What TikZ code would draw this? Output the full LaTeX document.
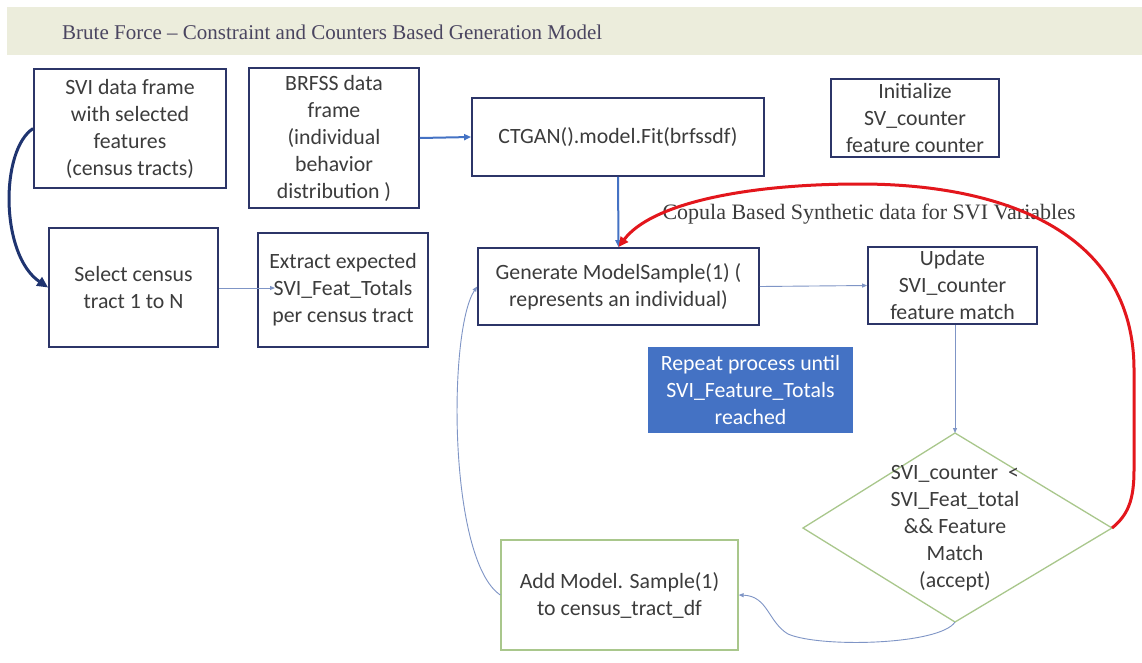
\documentclass[tikz,border=0pt]{standalone}
\usepackage{fontspec}
\setmainfont{Carlito}
\newfontfamily\serifttl{Liberation Serif}
\usetikzlibrary{arrows.meta}
\definecolor{band}{HTML}{ECEDDC}
\definecolor{navy}{HTML}{2C3568}
\definecolor{txt}{HTML}{3C3C3C}
\definecolor{thin}{HTML}{7F95C6}
\definecolor{midblue}{HTML}{4472C4}
\definecolor{darkarrow}{HTML}{1F3470}
\definecolor{grn}{HTML}{A9C78C}
\definecolor{redc}{HTML}{E3161C}
\definecolor{ttl}{HTML}{4A4560}
\tikzset{
  x=1pt, y=-1pt,
  box/.style={draw=navy, line width=1.8pt, rectangle, inner sep=0pt, align=center,
    text=txt, font=\fontsize{21.8}{27}\selectfont},
  gbox/.style={draw=grn, line width=1.3pt, rectangle, inner sep=0pt, align=center,
    text=txt, font=\fontsize{21.8}{27}\selectfont},
  lbl/.style={inner sep=0pt, align=center, text=txt, font=\fontsize{21.8}{27}\selectfont},
  thinarr/.style={draw=thin, line width=0.9pt, -{Triangle[length=5pt,width=4pt]}},
  bluearr/.style={draw=midblue, line width=2pt, -{Triangle[length=7pt,width=6pt]}},
}
\begin{document}
\begin{tikzpicture}
\useasboundingbox (0,0) rectangle (1142,662);
\fill[white] (0,0) rectangle (1142,662);
\fill[band] (7,7) rectangle (1142,55);
\node[anchor=west, inner sep=0pt, text=ttl, font=\serifttl\fontsize{21}{24}\selectfont] (title) at (62,32)
  {Brute Force – Constraint and Counters Based Generation Model};

\node[box, minimum width=192, minimum height=119] (svi) at (130,128.5)
  {SVI data frame\\with selected\\features\\(census tracts)};
\node[box, minimum width=170, minimum height=140] (brfss) at (334,138)
  {BRFSS data\\frame\\(individual\\behavior\\distribution )};
\node[box, minimum width=292, minimum height=78] (ctgan) at (618,137)
  {CTGAN().model.Fit(brfssdf)};
\node[box, minimum width=168, minimum height=78] (init) at (915,118)
  {Initialize\\SV\_counter\\feature counter};
\node[box, minimum width=169, minimum height=119] (select) at (133.5,287.5)
  {Select census\\tract 1 to N};
\node[box, minimum width=170, minimum height=114] (extract) at (343,290)
  {Extract expected\\SVI\_Feat\_Totals\\per census tract};
\node[box, minimum width=281, minimum height=77] (gen) at (618.5,286.5)
  {Generate ModelSample(1) (\\represents an individual)};
\node[box, minimum width=169, minimum height=77] (update) at (952.5,285.5)
  {Update\\SVI\_counter\\feature match};
\node[rectangle, fill=midblue, inner sep=0pt, minimum width=205, minimum height=86, align=center,
  text=white, font=\fontsize{21.8}{27}\selectfont] (repeat) at (750.5,390)
  {Repeat process until\\SVI\_Feature\_Totals\\reached};
\node[gbox, minimum width=237, minimum height=110] (add) at (619.5,595)
  {Add Model. Sample(1)\\to census\_tract\_df};

% decision diamond
\coordinate (dtop) at (955,433);
\coordinate (dbot) at (955,622);
\coordinate (dleft) at (803,528);
\coordinate (dright) at (1112,528);
\draw[grn, line width=1.3pt] (dtop) -- (dright) -- (dbot) -- (dleft) -- cycle;
\node[lbl] (dec) at (955,528)
  {SVI\_counter \ <\\SVI\_Feat\_total\\\&\& Feature\\Match\\(accept)};

\node[inner sep=0pt, text=txt, font=\serifttl\fontsize{22}{24}\selectfont] (copula) at (869,214)
  {Copula Based Synthetic data for SVI Variables};

% connectors
\draw[darkarrow, line width=3pt, -{Triangle[length=11pt,width=10pt]}]
  (svi.west) .. controls (0,150) and (0,255) .. (select.west);
\coordinate (sx) at (275,288);
\draw[thinarr] (select.east |- sx) -- (sx);
\draw[bluearr] (brfss.east) -- (ctgan.west);
\draw[bluearr] (ctgan.south) -- (gen.north);
\draw[thinarr] (gen.east) -- (update.west);
\draw[thinarr] (update.south -| dtop) -- (dtop);
\draw[thinarr] (dbot) .. controls (940,645) and (820,648) .. (788,634)
  .. controls (768,622) and (768,596) .. (add.east);
\draw[thinarr] (add.west) .. controls (448,560) and (448,330) .. (gen.west);
\draw[redc, line width=3pt, -{Triangle[length=10pt,width=9pt]}]
  (dright) .. controls (1128,515) and (1134,500) .. (1134,470) -- (1134,370)
  .. controls (1134,230) and (1000,184) .. (860,184)
  .. controls (740,184) and (650,205) .. (gen.north);
\end{tikzpicture}
\end{document}
